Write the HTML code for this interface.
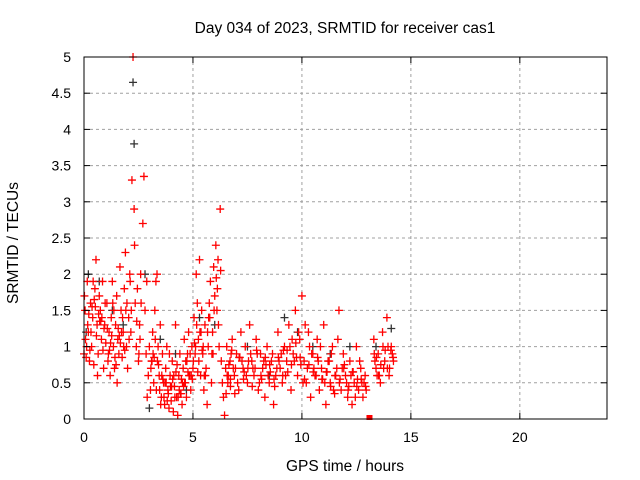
<!DOCTYPE html>
<html><head><meta charset="utf-8"><style>
body{margin:0;background:#fff;}
svg{display:block;font-family:"Liberation Sans",sans-serif;}
</style></head><body>
<svg id="chart" width="640" height="480">
<text x="345" y="33" font-size="15.5" text-anchor="middle">Day 034 of 2023, SRMTID for receiver cas1</text>
<text x="345" y="471" font-size="15.5" text-anchor="middle">GPS time / hours</text>
<text x="18" y="243" font-size="15.5" text-anchor="middle" transform="rotate(-90 18 243)">SRMTID / TECUs</text>
<g id="grid"></g>
<g id="marks"></g>
<rect x="84" y="57" width="523" height="362" fill="none" stroke="#000" stroke-width="1"/>
<g id="ticks"></g>
</svg>
<script>
const xTicks=[0,5,10,15,20];
const yTicks=[0,0.5,1,1.5,2,2.5,3,3.5,4,4.5,5];
const yTickLabels=["0","0.5","1","1.5","2","2.5","3","3.5","4","4.5","5"];
const redT=[0,0.05,0.1,0.15,0.2,0.25,0.3,0.35,0.4,0.45,0.5,0.55,0.6,0.65,0.7,0.75,0.8,0.85,0.9,0.95,
1.0,1.05,1.1,1.15,1.2,1.25,1.3,1.35,1.4,1.45,1.5,1.55,1.6,1.65,1.7,1.75,1.8,1.85,1.9,1.95,
2.0,2.05,2.1,2.15,2.2,2.25,2.3,2.35,2.4,2.45,2.5,2.55,2.6,2.7,2.75,2.8,2.85,2.9,2.95,
3.0,3.05,3.1,3.15,3.2,3.25,3.3,3.35,3.4,3.45,3.5,3.55,3.6,3.65,3.7,3.75,3.8,3.85,3.9,3.95,
4.0,4.05,4.1,4.15,4.2,4.25,4.3,4.35,4.4,4.45,4.5,4.55,4.6,4.65,4.7,4.75,4.8,4.85,4.9,4.95,
5.0,5.05,5.1,5.15,5.2,5.25,5.3,5.35,5.4,5.45,5.5,5.55,5.6,5.65,5.7,5.75,5.8,5.85,5.9,5.95,
6.0,6.05,6.1,6.15,6.2,6.25,6.3,6.35,6.4,6.45,6.5,6.55,6.6,6.7,6.8,6.9,7.0,7.1,7.2,7.3,7.4,7.5,7.6,7.7,7.8,7.9,
8.0,8.1,8.2,8.3,8.4,8.5,8.6,8.7,8.8,8.9,9.0,9.1,9.2,9.3,9.4,9.5,9.6,9.7,9.8,9.9,
10.0,10.1,10.2,10.3,10.4,10.5,10.6,10.7,10.8,10.9,11.0,11.1,11.2,11.3,11.4,11.5,11.6,11.7,11.8,11.9,
12.0,12.1,12.2,12.3,12.4,12.5,12.6,12.7,12.8,12.9,13.3,13.4,13.5,13.6,13.7,13.8,13.9,14.0,14.1,14.2,
0.02,0.12,0.32,0.42,0.62,0.82,1.12,1.32,1.52,1.72,1.92,2.12,2.32,2.52,3.12,3.32,3.52,3.72,3.92,4.12,4.32,4.52,4.72,4.92,5.12,5.32,5.52,5.72,5.92,6.12,6.62,6.75,6.85,7.05,7.25,7.45,7.65,7.85,8.05,8.25,8.45,8.65,8.85,9.05,9.25,9.45,9.65,9.85,10.05,10.25,10.45,10.65,10.85,11.05,11.25,11.45,11.65,11.85,12.05,12.25,12.45,12.65,12.85,13.35,13.55,13.75,13.95,14.15,
0.07,0.17,0.27,0.37,0.47,0.57,0.67,0.77,0.87,0.97,1.07,1.17,1.27,1.37,1.47,1.57,1.67,1.77,1.87,1.97,2.07,2.17,2.42,2.57,2.62,2.88,3.07,3.17,3.27,3.37,3.47,3.57,3.67,3.77,3.87,3.97,4.07,4.17,4.27,4.37,4.47,4.57,4.67,4.77,4.87,4.97,5.07,5.17,5.27,5.37,5.47,5.57,5.67,5.77,5.87,5.97,6.07,6.17,6.27,6.52,6.57,6.65,6.72,6.78,6.95,7.15,7.35,7.55,7.75,7.95,8.15,8.35,8.55,8.75,8.95,9.15,9.35,9.55,9.75,9.95,10.15,10.35,10.55,10.75,10.95,11.15,11.35,11.55,11.75,11.95,12.15,12.35,12.55,12.75,12.95,13.32,13.45,13.62,13.82,14.02,14.18,
0.22,0.52,0.72,0.92,1.22,1.42,1.62,1.82,3.22,3.42,3.62,3.82,4.02,4.22,4.42,4.62,4.82,5.02,5.22,5.42,6.72,6.92,7.12,7.32,7.52,7.72,7.92,8.12,8.32,8.52,8.72,8.92,9.12,9.32,9.52,9.72,9.92,10.12,10.32,10.52,10.72,10.92,11.12,11.32,11.52,11.72,11.92,12.12,12.32,12.52,12.72,12.92,13.42,13.52,13.72,13.92,14.08];
const redV=[0.9,1.5,0.85,1.9,1.2,0.8,1.6,1.0,1.4,0.75,1.8,2.2,1.3,0.9,1.7,1.5,1.1,1.9,0.7,1.3,
1.05,1.6,0.8,1.2,0.6,1.4,1.9,1.0,0.7,1.3,1.7,1.1,0.9,2.1,1.5,0.85,1.2,1.8,2.3,1.0,
0.7,1.4,2.0,1.2,3.3,5.0,2.9,1.6,1.0,1.8,0.8,1.3,2.0,2.7,3.35,1.5,0.9,0.3,0.6,
1.0,0.4,0.8,1.2,0.5,1.5,1.9,2.0,1.0,0.6,1.3,0.3,0.9,0.5,0.2,0.7,1.0,0.4,0.15,0.6,
0.25,0.8,0.1,0.45,1.3,0.3,0.05,0.6,0.9,0.35,0.2,0.7,1.1,0.5,0.3,0.9,1.2,0.6,0.4,1.0,
0.7,1.4,0.9,2.0,1.6,1.1,2.2,0.6,1.5,0.9,0.4,1.3,0.7,0.2,1.0,1.6,1.9,0.5,1.2,2.1,
1.7,2.4,1.5,2.2,1.0,2.9,0.8,0.5,0.3,0.05,0.7,1.0,0.5,0.8,1.1,0.6,0.9,0.4,1.2,0.7,1.0,0.5,1.3,0.8,0.6,1.1,
0.4,0.9,0.7,0.3,1.0,0.5,0.8,0.2,0.6,1.2,0.7,0.5,1.0,0.8,1.3,0.4,0.9,1.5,0.6,1.1,
1.7,0.8,0.5,1.2,0.3,0.9,0.6,1.1,0.4,0.7,1.3,0.2,0.8,0.5,1.0,0.35,0.7,1.5,0.4,0.9,
0.6,0.3,0.8,0.2,0.5,1.0,0.4,0.7,0.3,0.6,1.1,0.7,0.9,0.5,1.2,0.8,1.4,0.6,1.0,0.8,
1.7,1.0,1.2,1.9,0.6,1.4,0.9,1.6,0.5,1.2,1.5,1.9,2.4,0.9,0.8,0.4,0.2,0.5,0.9,0.6,0.3,0.5,0.8,0.6,1.0,1.2,0.6,1.4,0.9,1.8,0.6,0.9,0.7,0.5,0.8,0.6,0.9,0.7,0.5,0.8,0.6,0.9,0.7,0.9,0.6,1.0,0.8,1.2,0.5,0.7,0.9,0.6,1.0,0.5,0.8,0.4,1.1,0.7,0.5,0.6,0.3,0.8,0.5,0.8,0.6,0.7,1.0,0.9,
1.1,1.3,0.95,1.55,1.65,1.15,1.45,1.35,0.95,1.6,1.25,0.95,1.15,1.5,0.75,1.25,1.05,1.4,0.95,1.6,1.1,1.5,1.35,1.1,1.6,1.9,0.7,0.9,1.1,0.8,0.4,0.6,0.3,0.5,0.35,0.45,0.55,0.3,0.75,0.4,0.55,0.45,0.8,0.65,0.9,0.55,1.05,1.3,0.8,1.2,1.0,0.6,1.2,1.4,0.9,1.5,1.95,1.3,2.05,0.35,0.6,0.75,0.55,0.95,0.7,0.85,0.65,0.8,0.7,0.9,0.55,0.75,0.65,0.45,0.8,0.95,0.65,1.1,0.85,0.75,1.3,1.0,0.7,0.8,0.55,0.65,0.9,0.6,0.55,0.75,0.45,0.65,0.55,0.5,0.4,0.9,0.6,0.75,0.95,0.7,0.85,
1.45,1.55,1.35,1.25,1.05,0.85,1.15,1.0,0.85,0.75,0.55,0.25,0.45,0.65,0.35,0.5,0.6,0.8,0.65,0.95,0.45,0.35,0.85,0.55,0.7,0.45,0.95,0.6,0.85,0.75,0.55,0.85,0.6,0.95,0.75,1.05,0.85,0.55,0.75,0.65,0.85,0.55,0.65,0.45,0.6,0.5,0.7,0.4,0.65,0.45,0.55,0.45,0.85,0.6,1.0,0.7,0.95];
const blackT=[0.1,0.2,0.7,1.3,1.8,2.25,2.3,2.8,3.0,3.5,4.2,4.7,5.3,6.0,7.5,8.5,9.2,9.8,10.5,11.3,12.2,13.4,14.1];
const blackV=[1.2,2.0,1.9,1.5,1.3,4.65,3.8,2.0,0.15,1.1,0.9,0.4,1.4,1.3,1.0,0.6,1.4,1.2,1.0,0.9,1.0,1.0,1.25];
const zeroT=[13.1];
const zeroV=[0];
const X0=84,X1=607,Y0=419,Y1=57;
const xs=t=>X0+(t/24)*(X1-X0);
const ys=v=>Y0-(v/5)*(Y0-Y1);
const NS="http://www.w3.org/2000/svg";
const grid=document.getElementById('grid'),ticks=document.getElementById('ticks'),marks=document.getElementById('marks');
function mk(tag,at,parent){const e=document.createElementNS(NS,tag);for(const k in at)e.setAttribute(k,at[k]);parent.appendChild(e);return e;}
xTicks.forEach(t=>{const x=xs(t);
 if(t>0){const g=mk('line',{x1:x,x2:x,y1:Y0,y2:Y1,stroke:'#a0a0a0','stroke-dasharray':'3,3'},grid);
 
 }
 mk('line',{x1:x,x2:x,y1:Y0,y2:Y0-6,stroke:'#000'},ticks);
 mk('line',{x1:x,x2:x,y1:Y1,y2:Y1+6,stroke:'#000'},ticks);
 const l=mk('text',{x:x,y:Y0+23,'font-size':14,'text-anchor':'middle'},ticks);l.textContent=t;
 
 
});
yTicks.forEach((v,i)=>{const y=ys(v);
 if(v>0&&v<5){const g=mk('line',{x1:X0,x2:X1,y1:y,y2:y,stroke:'#a0a0a0','stroke-dasharray':'3,3'},grid);
 
 }
 mk('line',{x1:X0,x2:X0+6,y1:y,y2:y,stroke:'#000'},ticks);
 mk('line',{x1:X1,x2:X1-6,y1:y,y2:y,stroke:'#000'},ticks);
 const l=mk('text',{x:X0-13,y:y+5,'font-size':14,'text-anchor':'end'},ticks);l.textContent=yTickLabels[i];
 
 
});
function plus(t,v,col){const x=xs(t),y=ys(v);
 const p=mk('path',{d:`M${x-4},${y}h8M${x},${y-4}v8`,stroke:col,'stroke-width':1.3},marks);
 
 }
blackT.forEach((t,i)=>plus(t,blackV[i],'#333'));
redT.forEach((t,i)=>plus(t,redV[i],'#ff0000'));
zeroT.forEach((t,i)=>{const r=mk('rect',{x:xs(t)-3,y:ys(zeroV[i])-4,width:6,height:5,fill:'#ff0000'},marks);
 
 });
</script>
</body></html>
